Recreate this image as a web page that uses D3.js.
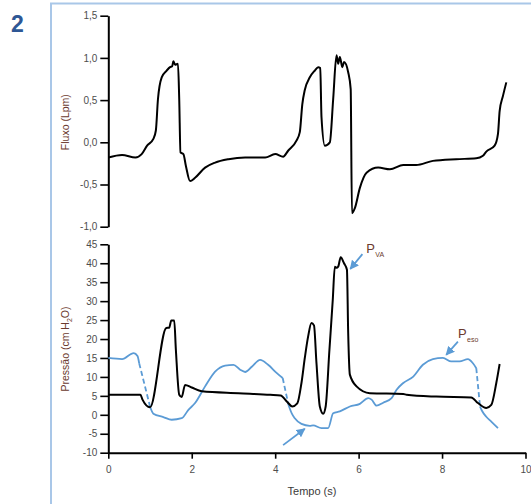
<!DOCTYPE html>
<html>
<head>
<meta charset="utf-8">
<script src="https://cdn.jsdelivr.net/npm/d3@7"></script>
<style>
  body { margin: 0; background: #fff; }
  svg { display: block; font-family: "Liberation Sans", Arial, sans-serif; }
</style>
</head>
<body>
<svg width="531" height="504"></svg>
<script>
// flow (Lpm) vs time (s)
const flowT = [0, 0.33, 0.65, 0.8, 0.93, 1.08, 1.14, 1.19, 1.28, 1.40, 1.48, 1.53, 1.56, 1.60, 1.67, 1.70, 1.73, 1.80, 1.86, 1.96, 2.08, 2.32, 2.56, 2.88, 3.28, 3.76, 4.0, 4.19, 4.31, 4.51, 4.59, 4.65, 4.71, 4.83, 4.95, 5.03, 5.08, 5.11, 5.19, 5.31, 5.39, 5.47, 5.51, 5.55, 5.61, 5.65, 5.75, 5.81, 5.84, 5.91, 6.03, 6.19, 6.47, 6.75, 7.07, 7.38, 7.78, 8.34, 8.82, 8.98, 9.06, 9.26, 9.34, 9.38, 9.46, 9.54];
const flowV = [-0.18, -0.15, -0.18, -0.14, -0.04, 0.04, 0.14, 0.51, 0.77, 0.85, 0.89, 0.90, 0.96, 0.92, 0.93, 0.51, -0.12, -0.14, -0.28, -0.46, -0.42, -0.30, -0.24, -0.20, -0.18, -0.18, -0.14, -0.17, -0.10, 0.02, 0.12, 0.45, 0.62, 0.77, 0.85, 0.89, 0.88, 0.30, -0.04, 0.0, 0.51, 1.03, 0.93, 1.01, 0.89, 0.95, 0.83, 0.63, -0.84, -0.78, -0.54, -0.36, -0.30, -0.32, -0.27, -0.27, -0.22, -0.20, -0.19, -0.16, -0.11, -0.04, 0.10, 0.37, 0.55, 0.71];

// airway pressure P_VA (cmH2O)
const pvaT = [0, 0.77, 0.82, 1.0, 1.39, 1.46, 1.51, 1.58, 1.62, 1.70, 1.76, 1.84, 2.0, 2.24, 3.12, 3.88, 4.13, 4.29, 4.41, 4.53, 4.63, 4.71, 4.79, 4.87, 4.93, 4.99, 5.07, 5.15, 5.21, 5.30, 5.38, 5.43, 5.47, 5.51, 5.57, 5.65, 5.72, 5.75, 5.79, 5.95, 6.27, 7.07, 7.15, 7.86, 8.70, 8.86, 9.06, 9.18, 9.30, 9.38];
const pvaP = [5.3, 5.3, 4.0, 2.0, 22.9, 23.0, 24.9, 24.9, 17.1, 5.3, 4.7, 7.9, 7.2, 6.2, 5.7, 5.3, 5.1, 3.4, 2.2, 3.0, 8.4, 15.0, 20.7, 24.2, 23.6, 13.6, 2.2, 0.3, 2.2, 17.1, 30.3, 39.1, 38.8, 39.1, 41.6, 40.0, 38.3, 21.6, 10.6, 7.5, 5.7, 5.5, 5.3, 4.8, 4.6, 3.1, 1.8, 2.6, 8.4, 13.4];

// esophageal pressure P_eso (cmH2O)
const pesoT = [0, 0.33, 0.61, 0.70, 0.74, 1.0, 1.08, 1.32, 1.52, 1.76, 1.92, 2.08, 2.32, 2.56, 2.80, 3.0, 3.16, 3.28, 3.44, 3.64, 3.83, 4.04, 4.18, 4.32, 4.40, 4.47, 4.63, 4.83, 4.91, 5.11, 5.27, 5.39, 5.55, 5.79, 6.03, 6.23, 6.31, 6.43, 6.59, 6.79, 6.91, 7.07, 7.31, 7.54, 7.78, 8.02, 8.22, 8.42, 8.62, 8.74, 8.82, 8.91, 8.96, 9.06, 9.18, 9.34];
const pesoP = [15.0, 14.7, 16.3, 15.5, 13.6, 2.2, 0.3, -0.6, -1.3, -0.9, 1.3, 3.1, 7.5, 11.4, 13.0, 13.2, 11.9, 11.3, 12.7, 14.5, 13.2, 11.0, 9.7, 2.6, 0.3, -0.9, -2.4, -2.9, -2.8, -3.5, -3.5, 0.4, 0.9, 2.2, 2.9, 4.4, 4.0, 2.4, 3.2, 4.4, 6.6, 8.4, 10.1, 13.2, 14.7, 15.0, 14.1, 14.1, 14.7, 13.6, 12.3, 2.2, 1.0, -0.5, -1.8, -3.5];
// times where the P_eso trace continues as a dashed segment
const pesoDashStart = [0.74, 4.18, 8.82];

const flowTicks = [-1, -0.5, 0, 0.5, 1, 1.5];
const pressTicks = [-10, -5, 0, 5, 10, 15, 20, 25, 30, 35, 40, 45];
const timeTicks = [0, 2, 4, 6, 8, 10];

const svg = d3.select('svg');
const blue = '#5b9bd5';
const labelColor = '#6b3a2e';

const loc = d3.formatLocale({decimal: ',', thousands: '.', grouping: [3], currency: ['', ''], minus: '-'});
const fmt1 = loc.format('.1f');
const fmt0 = loc.format('d');

const x = d3.scaleLinear().domain([0, 10]).range([108.3, 525.5]);
const yFlow = d3.scaleLinear().domain([-1, 1.5]).range([226.7, 15.7]);
const yP = d3.scaleLinear().domain([-10, 45]).range([452.7, 244.3]);

// frame
svg.append('path')
  .attr('d', 'M51,504V3.5H531')
  .attr('fill', 'none')
  .attr('stroke', '#a9c7e8')
  .attr('stroke-width', 2);

svg.append('text')
  .attr('x', 11).attr('y', 32)
  .attr('font-size', 23).attr('font-weight', 'bold')
  .attr('fill', '#2e5795')
  .text('2');

// axes
function styleAxis(g) {
  g.select('.domain').attr('stroke-width', 2);
  g.selectAll('.tick line').attr('stroke-width', 1.6);
  g.selectAll('.tick text').attr('fill', '#4d4d4d').attr('font-size', 10);
}

svg.append('g')
  .attr('transform', `translate(${x(0)},0)`)
  .call(d3.axisLeft(yFlow).tickValues(flowTicks).tickFormat(fmt1).tickSize(8).tickPadding(3).tickSizeOuter(0))
  .call(styleAxis);

svg.append('g')
  .attr('transform', `translate(${x(0)},0)`)
  .call(d3.axisLeft(yP).tickValues(pressTicks).tickFormat(fmt0).tickSize(8).tickPadding(3).tickSizeOuter(0))
  .call(styleAxis);

svg.append('g')
  .attr('transform', `translate(0,${yP(-10)})`)
  .call(d3.axisBottom(x).tickValues(timeTicks).tickFormat(fmt0).tickSize(6).tickPadding(7).tickSizeOuter(0))
  .call(styleAxis);

// axis titles
svg.append('text')
  .attr('transform', `translate(69,${(yFlow(1.5) + yFlow(-1)) / 2 + 1}) rotate(-90)`)
  .attr('text-anchor', 'middle')
  .attr('font-size', 10.5)
  .attr('fill', labelColor)
  .text('Fluxo (Lpm)');

const pt = svg.append('text')
  .attr('transform', `translate(69,349) rotate(-90)`)
  .attr('text-anchor', 'middle')
  .attr('font-size', 10.5)
  .attr('fill', labelColor);
pt.append('tspan').text('Pressão  (cm H');
pt.append('tspan').attr('font-size', 7).attr('dy', 3).text('2');
pt.append('tspan').attr('dy', -3).text('O)');

svg.append('text')
  .attr('x', 312).attr('y', 495)
  .attr('text-anchor', 'middle')
  .attr('font-size', 11)
  .attr('fill', '#3a3a3a')
  .text('Tempo (s)');

// traces
const flowLine = d3.line()
  .x(d => x(d[0]))
  .y(d => yFlow(d[1]))
  .curve(d3.curveMonotoneX);

svg.append('path')
  .datum(flowT.map((t, i) => [t, flowV[i]]))
  .attr('d', flowLine)
  .attr('fill', 'none')
  .attr('stroke', '#000')
  .attr('stroke-width', 2)
  .attr('stroke-linejoin', 'round');

const pLine = d3.line()
  .x(d => x(d[0]))
  .y(d => yP(d[1]))
  .curve(d3.curveMonotoneX);

// split P_eso into solid runs and dashed joins
const pesoPts = pesoT.map((t, i) => [t, pesoP[i]]);
const solidRuns = [[]];
const dashedRuns = [];
pesoPts.forEach((p, i) => {
  solidRuns[solidRuns.length - 1].push(p);
  if (pesoDashStart.includes(p[0]) && i < pesoPts.length - 1) {
    dashedRuns.push([p, pesoPts[i + 1]]);
    solidRuns.push([]);
  }
});

svg.selectAll('.peso-solid')
  .data(solidRuns)
  .enter().append('path')
    .attr('class', 'peso-solid')
    .attr('d', pLine)
    .attr('fill', 'none')
    .attr('stroke', blue)
    .attr('stroke-width', 1.8);

svg.selectAll('.peso-dash')
  .data(dashedRuns)
  .enter().append('path')
    .attr('class', 'peso-dash')
    .attr('d', d3.line().x(d => x(d[0])).y(d => yP(d[1])))
    .attr('fill', 'none')
    .attr('stroke', blue)
    .attr('stroke-width', 1.8)
    .attr('stroke-dasharray', '5,3');

svg.append('path')
  .datum(pvaT.map((t, i) => [t, pvaP[i]]))
  .attr('d', pLine)
  .attr('fill', 'none')
  .attr('stroke', '#000')
  .attr('stroke-width', 2)
  .attr('stroke-linejoin', 'round');

// annotations
svg.append('defs').append('marker')
  .attr('id', 'arr')
  .attr('viewBox', '0 0 10 10')
  .attr('refX', 9).attr('refY', 5)
  .attr('markerWidth', 5).attr('markerHeight', 5)
  .attr('orient', 'auto')
  .append('path')
    .attr('d', 'M0,0L10,5L0,10z')
    .attr('fill', blue);

const arrows = [
  [[6.09, 42.4], [5.80, 38.5]],
  [[8.38, 19.3], [8.10, 15.8]],
  [[4.19, -8.0], [4.71, -3.7]]
];
svg.selectAll('.arrow')
  .data(arrows)
  .enter().append('line')
    .attr('class', 'arrow')
    .attr('x1', d => x(d[0][0])).attr('y1', d => yP(d[0][1]))
    .attr('x2', d => x(d[1][0])).attr('y2', d => yP(d[1][1]))
    .attr('stroke', blue)
    .attr('stroke-width', 1.8)
    .attr('marker-end', 'url(#arr)');

const labels = [
  {t: 6.18, p: 42.7, sub: 'VA'},
  {t: 8.38, p: 20.3, sub: 'eso'}
];
labels.forEach(l => {
  const tx = svg.append('text')
    .attr('x', x(l.t)).attr('y', yP(l.p))
    .attr('font-size', 13)
    .attr('fill', labelColor);
  tx.append('tspan').text('P');
  tx.append('tspan').attr('font-size', 7).attr('dy', 4).attr('dx', 0.5).text(l.sub);
});
</script>
</body>
</html>
